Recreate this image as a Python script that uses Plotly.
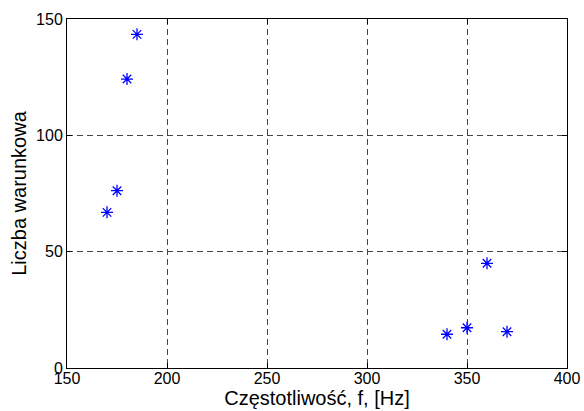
import plotly.graph_objects as go

freq = [170, 175, 180, 185, 340, 350, 360, 370]
cond = [66.9, 76.2, 124.2, 143.4, 14.5, 17.3, 45.0, 15.6]

x_ticks = [150, 200, 250, 300, 350, 400]
y_ticks = [0, 50, 100, 150]

fig = go.Figure()
fig.add_trace(go.Scatter(
    x=freq, y=cond, mode="markers",
    marker=dict(symbol="asterisk-open", size=10, color="#0000ff",
                line=dict(color="#0000ff", width=1.3)),
    showlegend=False,
))

font = "Liberation Sans, Arial, sans-serif"
axis_common = dict(
    showline=True, linecolor="black", linewidth=1, mirror="ticks",
    ticks="inside", ticklen=5, tickcolor="black",
    showgrid=True, gridcolor="#444444", griddash="6px,4px", gridwidth=1,
    zeroline=False, tickfont=dict(family=font, size=16, color="black"),
    automargin=False,
)

fig.update_xaxes(range=[150, 400], tickvals=x_ticks, ticklabelstandoff=-4,
                 title=dict(text="Częstotliwość, f, [Hz]", font=dict(family=font, size=20, color="black"), standoff=0),
                 **axis_common)
fig.update_yaxes(range=[0, 150], tickvals=y_ticks,
                 title=dict(text="Liczba warunkowa", font=dict(family=font, size=20, color="black"), standoff=4),
                 **axis_common)

fig.update_layout(
    width=584, height=411,
    margin=dict(l=67, r=17, t=19, b=43),
    paper_bgcolor="white", plot_bgcolor="white",
)

fig.write_html("out.html")
